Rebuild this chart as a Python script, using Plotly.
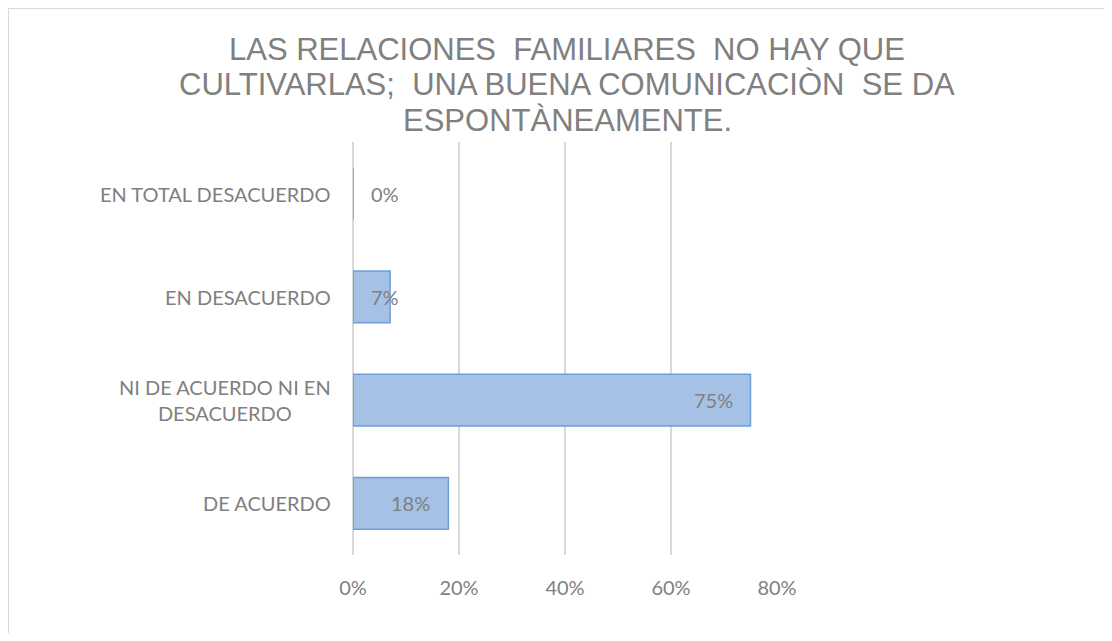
import plotly.graph_objects as go

# Data
categories = ["EN TOTAL DESACUERDO", "EN DESACUERDO", "NI DE ACUERDO NI EN<br>DESACUERDO", "DE ACUERDO"]
values = [0.0, 0.07, 0.75, 0.18]
labels = ["0%", "7%", "75%", "18%"]
x_ticks = [0, 0.2, 0.4, 0.6, 0.8]
x_ticklabels = ["0%", "20%", "40%", "60%", "80%"]
title_lines = ["LAS RELACIONES  FAMILIARES  NO HAY QUE",
               "CULTIVARLAS;  UNA BUENA COMUNICACIÒN  SE DA",
               "ESPONTÀNEAMENTE."]

# page has an 8px body margin -> figure coords = reference coords - 8
W, H = 1100, 625
L, T = 345, 134
R = W - 769
B = H - 547
pw, ph = W - L - R, H - T - B

def px_to_paper_y(py):
    return (H - B - py) / ph

def px_to_paper_x(px):
    return (px - L) / pw

gray_text = "#7f7f7f"
lab_font = dict(family="Lato, 'Open Sans', sans-serif", size=20, color=gray_text)

fig = go.Figure()
fig.add_trace(go.Bar(
    y=list(range(len(categories))),
    x=values,
    orientation="h",
    width=0.5,
    marker=dict(color="#a5c2e6", line=dict(color="#6a9fd8", width=1.5)),
    hoverinfo="skip",
))

annotations = []
for i, (v, lab) in enumerate(zip(values, labels)):
    if v < 0.1:
        annotations.append(dict(x=0, y=i, xref="x", yref="y", text=lab, showarrow=False,
                                xanchor="left", xshift=16, font=lab_font))
    else:
        annotations.append(dict(x=v, y=i, xref="x", yref="y", text=lab, showarrow=False,
                                xanchor="right", xshift=-16, font=lab_font))
for i, c in enumerate(categories):
    annotations.append(dict(x=0, y=i, xref="paper", yref="y", text=c, showarrow=False,
                            xanchor="right", xshift=-20, align="center", font=lab_font))

# title lines (tight line spacing like the reference)
title_centers = [41, 76, 112]
for line, cy in zip(title_lines, title_centers):
    annotations.append(dict(x=px_to_paper_x(559), y=px_to_paper_y(cy), xref="paper", yref="paper",
                            text=line, showarrow=False, xanchor="center", yanchor="middle",
                            font=dict(family="'Liberation Sans', Arial, sans-serif", size=31,
                                      color="#808080")))

# border (top and left edges visible)
bx = px_to_paper_x(0)
by = px_to_paper_y(0)
shapes = [
    dict(type="line", xref="paper", yref="paper", x0=bx, x1=3, y0=by, y1=by,
         line=dict(color="#d9d9d9", width=2)),
    dict(type="line", xref="paper", yref="paper", x0=bx, x1=bx, y0=by, y1=-3,
         line=dict(color="#d9d9d9", width=2)),
]

fig.update_layout(
    width=W, height=H,
    margin=dict(l=L, r=R, t=T, b=B),
    paper_bgcolor="white", plot_bgcolor="white",
    showlegend=False,
    xaxis=dict(range=[0, 0.8], tickvals=x_ticks, ticktext=x_ticklabels,
               showgrid=True, gridcolor="#d9d9d9", gridwidth=1.5,
               zeroline=True, zerolinecolor="#d9d9d9", zerolinewidth=1.5,
               showline=False, ticks="", ticklabelstandoff=19,
               tickfont=lab_font),
    yaxis=dict(range=[3.5, -0.5], showticklabels=False, showgrid=False, zeroline=False,
               showline=False, ticks=""),
    annotations=annotations,
    shapes=shapes,
)

fig.write_html("out.html")
